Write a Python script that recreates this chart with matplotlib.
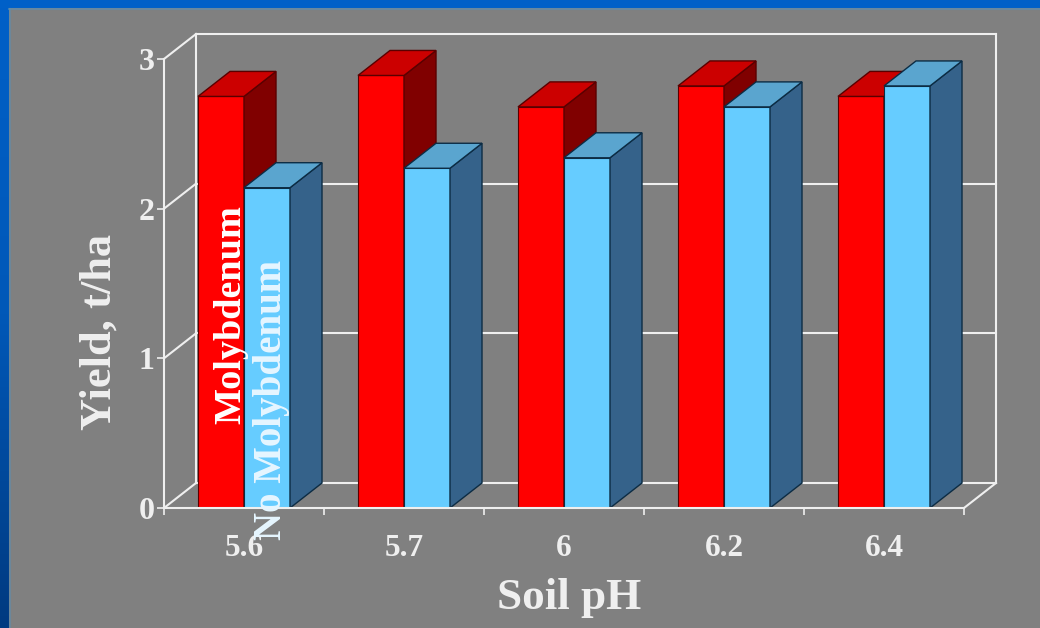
import matplotlib
matplotlib.use("Agg")
import matplotlib.pyplot as plt
import numpy as np
from matplotlib.patches import Polygon

ph_labels = ["5.6", "5.7", "6", "6.2", "6.4"]
with_mo = [2.75, 2.89, 2.68, 2.82, 2.75]
no_mo = [2.14, 2.27, 2.34, 2.68, 2.82]
y_ticks = [0, 1, 2, 3]

W, H = 1040, 628
L, R, B, T = 164, 964, 508, 59
dx = 32 / 160      # depth of the fake 3d box in data units
dy = 25 / 149.7
bar_w = 46 / 160
off = 34 / 160

plt.rcParams["font.family"] = ["Liberation Serif", "DejaVu Serif"]
plt.rcParams["font.weight"] = "bold"
white = "#efefef"

fig = plt.figure(figsize=(W / 100, H / 100), dpi=100, facecolor="#808080")

# blue slide border, top and left, darkening downwards
bg = fig.add_axes([0, 0, 1, 1], zorder=0)
bg.axis("off")
grad = np.linspace(0, 1, 256).reshape(-1, 1)
cm = matplotlib.colors.LinearSegmentedColormap.from_list("b", ["#0060c8", "#0058b8", "#003a80"])
bg.imshow(grad, extent=[0, 9, H, 0], cmap=cm, aspect="auto")
bg.fill_between([0, W], 0, 8, color="#0060c8", lw=0)
bg.plot([9, W], [9, 9], color="#5a8fb4", lw=1.5, alpha=0.6)
bg.plot([10, 10], [9, H], color="#5a8fb4", lw=1.5, alpha=0.5)
bg.set_xlim(0, W)
bg.set_ylim(H, 0)

ax = fig.add_axes([L / W, 1 - B / H, (R - L) / W, (B - T) / H], zorder=1)
ax.patch.set_alpha(0)
ax.set_xlim(0, 5)
ax.set_ylim(0, 3)

# walls of the box
for v in y_ticks:
    ax.plot([0, dx], [v, v + dy], color=white, lw=1.5, clip_on=False, zorder=1)
    ax.plot([dx, 5 + dx], [v + dy, v + dy], color=white, lw=1.5, clip_on=False, zorder=1)
ax.plot([dx, dx], [dy, 3 + dy], color=white, lw=1.5, clip_on=False, zorder=1)
ax.plot([5 + dx, 5 + dx], [dy, 3 + dy], color=white, lw=1.5, clip_on=False, zorder=1)
ax.plot([5, 5 + dx], [0, dy], color=white, lw=1.5, clip_on=False, zorder=1)


def bar3d(x, h, front, side, top, edge, z):
    ax.bar(x, h, bar_w, align="edge", color=front, edgecolor=edge, lw=0.8, zorder=z)
    ax.add_patch(Polygon([(x + bar_w, 0), (x + bar_w + dx, dy), (x + bar_w + dx, h + dy), (x + bar_w, h)],
                         fc=side, ec=edge, lw=1, zorder=z, clip_on=False))
    ax.add_patch(Polygon([(x, h), (x + dx, h + dy), (x + bar_w + dx, h + dy), (x + bar_w, h)],
                         fc=top, ec=edge, lw=1, zorder=z, clip_on=False))


for i in range(len(ph_labels)):
    bar3d(i + off, with_mo[i], "#ff0000", "#800000", "#cc0000", "#5a0000", 3 + i)
    bar3d(i + off + bar_w, no_mo[i], "#66ccff", "#35628a", "#5aa5cf", "#0c2c44", 3 + i)

for s in ["top", "right"]:
    ax.spines[s].set_visible(False)
for s in ["left", "bottom"]:
    ax.spines[s].set_color(white)
    ax.spines[s].set_linewidth(1.5)
    ax.spines[s].set_zorder(20)

ax.set_yticks(y_ticks)
ax.set_xticks(range(6))
ax.set_xticks(np.arange(len(ph_labels)) + 0.5, labels=ph_labels, minor=True)
ax.set_xticklabels([])
ax.tick_params(axis="x", which="major", length=5, width=1.2, color=white)
ax.tick_params(axis="x", which="minor", length=0, pad=19, labelsize=22.5, labelcolor=white)
ax.tick_params(axis="y", length=5, width=1.2, color=white, pad=2, labelsize=23, labelcolor=white)

fig.text(569 / W, 1 - 598 / H, "Soil pH", color=white, fontsize=32.5, ha="center", va="center")
fig.text(100 / W, 1 - 332 / H, "Yield, t/ha", color=white, fontsize=32, rotation=90, ha="center", va="center")

fig.text(231 / W, 1 - 315 / H, "Molybdenum", color="white", fontsize=27.5, rotation=90,
         ha="center", va="center", zorder=5)
fig.text(272 / W, 1 - 400 / H, "No Molybdenum", color="#e6f6ff", fontsize=28, rotation=90,
         ha="center", va="center", zorder=5)

fig.savefig("out.png", dpi=100, facecolor=fig.get_facecolor())
